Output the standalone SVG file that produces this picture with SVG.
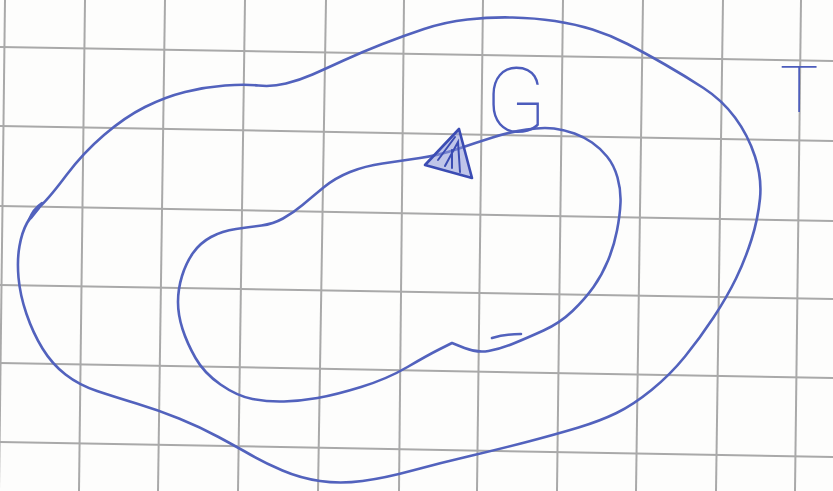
<svg xmlns="http://www.w3.org/2000/svg" width="833" height="491" viewBox="0 0 833 491">
<style>
.grid line{stroke:#a9a9a9;stroke-width:2}
.ink{fill:none;stroke:#5262bd;stroke-width:2.6;stroke-linecap:round;stroke-linejoin:round}
.lbl{font-family:Roboto,"Liberation Sans",sans-serif;font-weight:100;fill:#4c5cbc}
</style>
<rect width="833" height="491" fill="#fdfdfc"/>
<g id="grid" class="grid">
<line x1="5" y1="0" x2="-1" y2="491"/>
<line x1="85" y1="0" x2="79" y2="491"/>
<line x1="165" y1="0" x2="158" y2="491"/>
<line x1="245" y1="0" x2="238" y2="491"/>
<line x1="326" y1="0" x2="318" y2="491"/>
<line x1="404" y1="0" x2="399" y2="491"/>
<line x1="483" y1="0" x2="477" y2="491"/>
<line x1="563" y1="0" x2="557" y2="491"/>
<line x1="643" y1="0" x2="636" y2="491"/>
<line x1="723" y1="0" x2="716" y2="491"/>
<line x1="801" y1="0" x2="795" y2="491"/>
<line x1="0" y1="47" x2="833" y2="61"/>
<line x1="0" y1="126" x2="833" y2="141"/>
<line x1="0" y1="206" x2="833" y2="221"/>
<line x1="0" y1="285" x2="833" y2="299"/>
<line x1="0" y1="363" x2="833" y2="378"/>
<line x1="0" y1="442" x2="833" y2="457"/>
</g>
<g id="outer-curve">
<path class="ink" d="M 41,205.5 Q 50,197 66.5,175 Q 83,153 104,135 Q 125,117 145,107 Q 165,97 185,92 Q 205,87 225,85.5 Q 245,84 258.5,85.5 Q 272,87 286,83.5 Q 300,80 312.5,74.5 Q 325,69 343.5,60.5 Q 362,52 382.5,44 Q 403,36 424,29 Q 445,22 467.5,19.5 Q 490,17 512.5,17.5 Q 535,18 555,21 Q 575,24 592.5,29.5 Q 610,35 627.5,44 Q 645,53 665,64.5 Q 685,76 703.5,88 Q 722,100 735,117.5 Q 748,135 755,156.5 Q 762,178 760,198.5 Q 758,219 751.5,239.5 Q 745,260 736,278.5 Q 727,297 713.5,317.5 Q 700,338 685,356.5 Q 670,375 651.5,390 Q 633,405 616.5,413 Q 600,421 578.5,427.5 Q 557,434 528.5,441.5 Q 500,449 470,456 Q 440,463 412.5,470.5 Q 385,478 362.5,481 Q 340,484 320,481 Q 300,478 282.5,470.5 Q 265,463 251,455 Q 237,447 218.5,437 Q 200,427 179,418.5 Q 158,410 136.5,403.5 Q 115,397 97,391 Q 79,385 65.5,374.5 Q 52,364 42.5,348.5 Q 33,333 26.5,314 Q 20,295 18.5,277.5 Q 17,260 19.5,246 Q 22,232 27,223 Q 32,214 41,205.5"/>
<path class="ink" stroke-width="1.8" d="M 29,220 Q 33,209 42,203 M 31,218 L 39,208"/>
</g>
<g id="inner-curve">
<path class="ink" d="M 457.5,149 Q 440,155 420,158 Q 400,161 382.5,163.5 Q 365,166 350,172 Q 335,178 323.5,187.5 Q 312,197 302.5,205 Q 293,213 283,218.5 Q 273,224 261.5,225.5 Q 250,227 236,229 Q 222,231 211,237 Q 200,243 193,253 Q 186,263 182,276 Q 178,289 178,302 Q 178,315 182.5,329 Q 187,343 195.5,358 Q 204,373 220.5,384.5 Q 237,396 252.5,399 Q 268,402 284,401.5 Q 300,401 317.5,398 Q 335,395 361,387 Q 387,379 407.5,367 Q 428,355 440,349 L 452,343 L 464.5,348 Q 477,353 488.5,351 Q 500,349 513.5,343.5 Q 527,338 543.5,330.5 Q 560,323 572.5,311 Q 585,299 593.5,287 Q 602,275 608,260.5 Q 614,246 617,230.5 Q 620,215 620.5,202.5 Q 621,190 617.5,177.5 Q 614,165 607,156.5 Q 600,148 592,142.5 Q 584,137 574.5,133.5 Q 565,130 554,128.5 Q 543,127 526.5,129.5 Q 510,132 492.5,137.5 Q 475,143 457.5,149"/>
<path class="ink" stroke-width="2" d="M 492,338 Q 505,334 521,334"/>
</g>
<g id="arrowhead">
<polygon points="425,165 459,129 472,178" fill="#8d97d8" fill-opacity="0.55" stroke="#3b4cb3" stroke-width="2.6" stroke-linejoin="round"/>
<path d="M 438,160 L 455,137 M 445,166 L 458,142 L 460,172 M 452,168 L 452,150" fill="none" stroke="#3b4cb3" stroke-width="2" stroke-linecap="round"/>
</g>
<g id="label-G"><text class="lbl" x="485" y="132" font-size="90">G</text></g>
<g id="label-T"><text class="lbl" x="780" y="112" font-size="64">T</text></g>
</svg>
